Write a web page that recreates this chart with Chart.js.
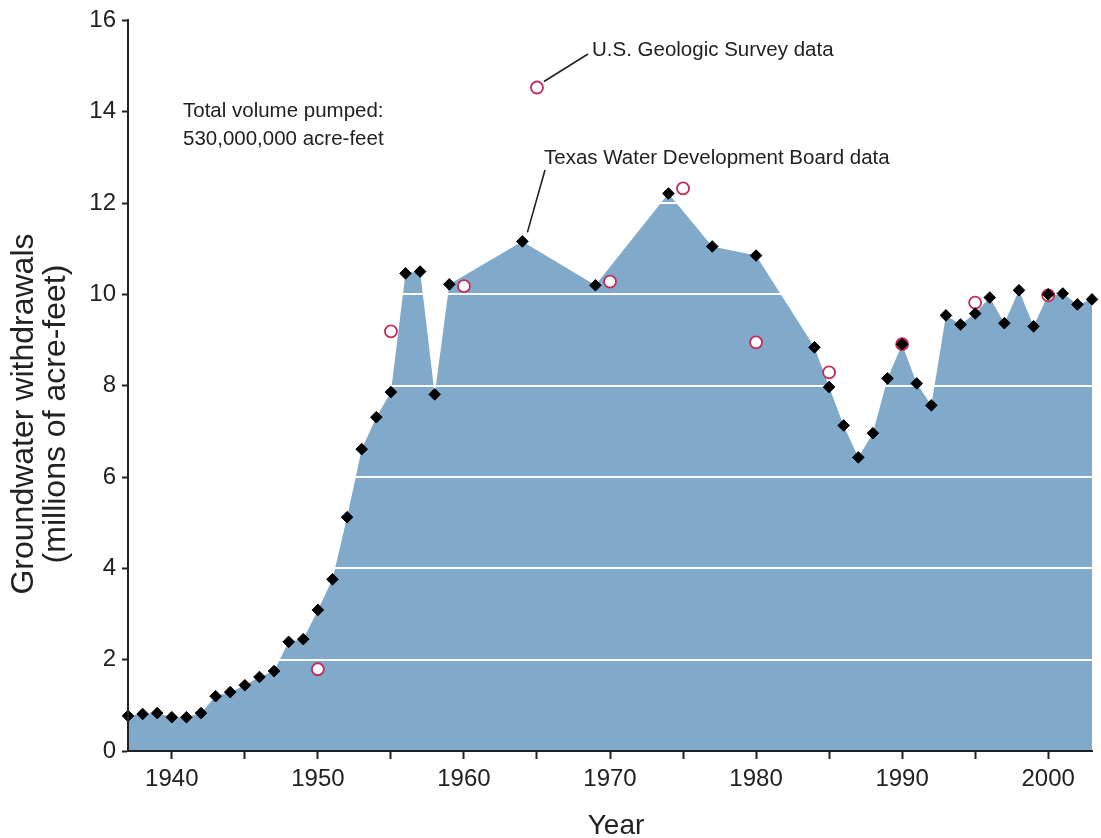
<!DOCTYPE html>
<html>
<head>
<meta charset="utf-8">
<title>Groundwater withdrawals</title>
<script src="https://cdn.jsdelivr.net/npm/chart.js@4.4.0/dist/chart.umd.min.js"></script>
<style>
  html, body { margin: 0; padding: 0; background: #ffffff; }
  #wrap { width: 1101px; height: 838px; }
</style>
</head>
<body>
<div id="wrap"><canvas id="c" width="1101" height="838"></canvas></div>
<script>
// Annual withdrawals, Texas Water Development Board (millions of acre-feet)
const twdbYears = [
  1937, 1938, 1939, 1940, 1941, 1942, 1943, 1944, 1945, 1946, 1947, 1948, 1949,
  1950, 1951, 1952, 1953, 1954, 1955, 1956, 1957, 1958, 1959, 1964, 1969, 1974,
  1977, 1980, 1984, 1985, 1986, 1987, 1988, 1989, 1990, 1991, 1992, 1993, 1994,
  1995, 1996, 1997, 1998, 1999, 2000, 2001, 2002, 2003
];
const twdbWithdrawals = [
  0.77, 0.81, 0.83, 0.74, 0.74, 0.83, 1.20, 1.29, 1.44, 1.62, 1.75, 2.39, 2.45,
  3.09, 3.76, 5.12, 6.61, 7.31, 7.86, 10.46, 10.50, 7.81, 10.22, 11.16, 10.20, 12.21,
  11.05, 10.85, 8.84, 7.97, 7.13, 6.43, 6.96, 8.16, 8.91, 8.05, 7.57, 9.54, 9.34,
  9.58, 9.93, 9.37, 10.09, 9.30, 10.00, 10.02, 9.78, 9.89
];

// Five-yearly estimates, U.S. Geologic Survey (millions of acre-feet)
const usgsYears = [1950, 1955, 1960, 1965, 1970, 1975, 1980, 1985, 1990, 1995, 2000];
const usgsWithdrawals = [1.79, 9.19, 10.18, 14.53, 10.28, 12.32, 8.95, 8.29, 8.91, 9.82, 9.98];

// Axis ticks
const yearTicks = [1940, 1945, 1950, 1955, 1960, 1965, 1970, 1975, 1980, 1985, 1990, 1995, 2000];
const yearLabels = ['1940', '', '1950', '', '1960', '', '1970', '', '1980', '', '1990', '', '2000'];
const withdrawalTicks = [0, 2, 4, 6, 8, 10, 12, 14, 16];
const gridLevels = [2, 4, 6, 8, 10, 12, 14];

const FONT = "'Liberation Sans', Arial, Helvetica, sans-serif";
const INK = '#222222';
const AREA = '#80a9ca';
const USGS_RED = '#c42a58';

const twdbPoints = twdbYears.map((yr, i) => ({ x: yr, y: twdbWithdrawals[i] }));
const usgsPoints = usgsYears.map((yr, i) => ({ x: yr, y: usgsWithdrawals[i] }));

// A USGS estimate equal to the TWDB value for that year is drawn as a solid dot
function usgsFill(ctx) {
  const p = ctx.raw;
  if (!p) return '#ffffff';
  const j = twdbYears.indexOf(p.x);
  return (j >= 0 && twdbWithdrawals[j] === p.y) ? USGS_RED : '#ffffff';
}

// White level lines laid over the shaded area, under the markers
const areaGridlines = {
  id: 'areaGridlines',
  afterDatasetDraw(chart, args) {
    if (args.index !== 0) return;
    const { ctx, chartArea, scales } = chart;
    ctx.save();
    ctx.strokeStyle = '#ffffff';
    ctx.lineWidth = 2;
    gridLevels.forEach(v => {
      const y = Math.round(scales.y.getPixelForValue(v));
      ctx.beginPath();
      ctx.moveTo(chartArea.left + 1, y);
      ctx.lineTo(chartArea.right, y);
      ctx.stroke();
    });
    ctx.restore();
  }
};

// Axis titles, notes and leader lines
const chartNotes = {
  id: 'chartNotes',
  afterDraw(chart) {
    const { ctx, scales } = chart;
    ctx.save();
    ctx.fillStyle = INK;
    ctx.strokeStyle = INK;

    // y-axis title (two lines, rotated)
    ctx.save();
    ctx.translate(0, 414);
    ctx.rotate(-Math.PI / 2);
    ctx.font = '32px ' + FONT;
    ctx.textAlign = 'center';
    ctx.textBaseline = 'alphabetic';
    ctx.fillText('Groundwater withdrawals', 0, 33);
    ctx.fillText('(millions of acre-feet)', 0, 65);
    ctx.restore();

    // x-axis title
    ctx.font = '28px ' + FONT;
    ctx.textAlign = 'center';
    ctx.textBaseline = 'alphabetic';
    ctx.fillText('Year', 616, 834);

    // notes
    ctx.font = '20.5px ' + FONT;
    ctx.textAlign = 'left';
    ctx.fillText('Total volume pumped:', 183, 117);
    ctx.fillText('530,000,000 acre-feet', 183, 145);
    ctx.fillText('U.S. Geologic Survey data', 592, 56);
    ctx.fillText('Texas Water Development Board data', 544, 164);

    // leader lines from the labelled markers
    ctx.lineWidth = 1.6;
    const gx = scales.x.getPixelForValue(usgsYears[3]);
    const gy = scales.y.getPixelForValue(usgsWithdrawals[3]);
    ctx.beginPath();
    ctx.moveTo(gx + 7, gy - 6);
    ctx.lineTo(588, 54);
    ctx.stroke();

    const tx = scales.x.getPixelForValue(twdbYears[23]);
    const ty = scales.y.getPixelForValue(twdbWithdrawals[23]);
    ctx.beginPath();
    ctx.moveTo(tx + 5, ty - 9);
    ctx.lineTo(545, 170);
    ctx.stroke();

    ctx.restore();
  }
};

new Chart(document.getElementById('c'), {
  type: 'scatter',
  data: {
    datasets: [
      {
        type: 'line',
        label: 'area',
        data: twdbPoints,
        fill: 'origin',
        backgroundColor: AREA,
        borderWidth: 0,
        borderColor: AREA,
        pointRadius: 0,
        tension: 0,
        order: 3
      },
      {
        label: 'U.S. Geologic Survey data',
        data: usgsPoints,
        pointStyle: 'circle',
        pointRadius: 6,
        pointBorderWidth: 1.8,
        pointBorderColor: USGS_RED,
        pointBackgroundColor: usgsFill,
        clip: false,
        order: 2
      },
      {
        label: 'Texas Water Development Board data',
        data: twdbPoints,
        pointStyle: 'rectRot',
        pointRadius: 5.8,
        pointBorderWidth: 1,
        pointBorderColor: '#000000',
        pointBackgroundColor: '#000000',
        clip: false,
        order: 1
      }
    ]
  },
  options: {
    responsive: false,
    animation: false,
    devicePixelRatio: 1,
    layout: { padding: { top: 20, right: 9, left: 0, bottom: 0 } },
    plugins: {
      legend: { display: false },
      tooltip: { enabled: false }
    },
    scales: {
      x: {
        type: 'linear',
        min: 1937,
        max: 2003,
        afterBuildTicks(scale) {
          scale.ticks = yearTicks.map(v => ({ value: v }));
        },
        afterFit(scale) { scale.height = 87; },
        grid: {
          drawOnChartArea: false,
          drawTicks: true,
          tickLength: 8,
          tickWidth: 2,
          color: INK
        },
        border: { display: true, color: INK, width: 2, z: 1 },
        ticks: {
          autoSkip: false,
          maxRotation: 0,
          padding: 6,
          color: INK,
          font: { family: FONT, size: 24 },
          callback(value) {
            const i = yearTicks.indexOf(value);
            return i >= 0 ? yearLabels[i] : '';
          }
        }
      },
      y: {
        type: 'linear',
        min: 0,
        max: 16,
        afterBuildTicks(scale) {
          scale.ticks = withdrawalTicks.map(v => ({ value: v }));
        },
        afterFit(scale) { scale.width = 128; },
        grid: {
          drawOnChartArea: false,
          drawTicks: true,
          tickLength: 6,
          tickWidth: 2,
          color: INK
        },
        border: { display: true, color: INK, width: 2, z: 1 },
        ticks: {
          padding: 6,
          color: INK,
          font: { family: FONT, size: 24 },
          callback(value) { return String(value); }
        }
      }
    }
  },
  plugins: [areaGridlines, chartNotes]
});
</script>
</body>
</html>
